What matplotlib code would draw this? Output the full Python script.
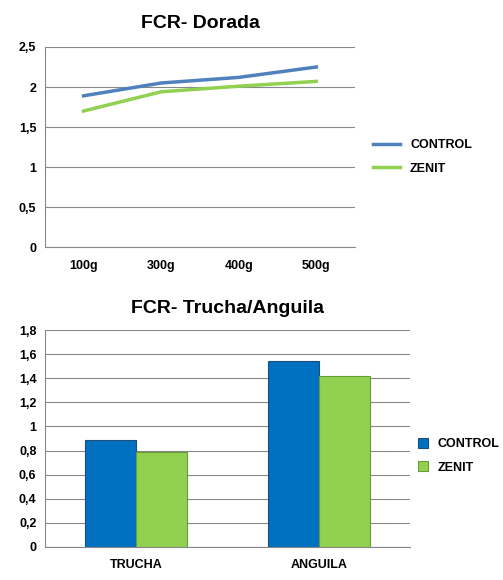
import matplotlib
matplotlib.use("Agg")
import matplotlib.pyplot as plt
import numpy as np

plt.rcParams['font.family'] = ['Liberation Sans', 'DejaVu Sans']

weights = ["100g", "300g", "400g", "500g"]
dorada_control = [1.89, 2.05, 2.12, 2.25]
dorada_zenit = [1.70, 1.94, 2.01, 2.07]

species = ["TRUCHA", "ANGUILA"]
ta_control = [0.89, 1.54]
ta_zenit = [0.79, 1.42]

fig = plt.figure(figsize=(5.03, 5.80), dpi=100)

def style(ax, yt, fmt):
    ax.set_yticks(yt)
    ax.set_yticklabels([fmt(v) for v in yt], fontsize=9, fontweight='bold')
    ax.grid(axis='y', color='#888888', lw=0.8)
    ax.set_axisbelow(True)
    for s in ['top', 'right']:
        ax.spines[s].set_visible(False)
    ax.spines['left'].set_color('#888888')
    ax.spines['bottom'].set_color('#888888')
    ax.tick_params(length=0, pad=6)

fmt = lambda v: ('%g' % round(v, 1)).replace('.', ',')

ax1 = fig.add_axes([0.089, 0.574, 0.617, 0.345])
x = np.arange(len(weights))
ax1.plot(x, dorada_control, color='#4F81BD', lw=2.5, label='CONTROL')
ax1.plot(x, dorada_zenit, color='#92D050', lw=2.5, label='ZENIT')
ax1.set_xlim(-0.5, len(weights) - 0.5)
ax1.set_ylim(0, 2.5)
style(ax1, np.arange(0, 2.51, 0.5), fmt)
ax1.set_xticks(x)
ax1.set_xticklabels(weights, fontsize=9, fontweight='bold')
ax1.tick_params(axis='x', pad=9)
ax1.set_title('FCR- Dorada', fontsize=14, fontweight='bold', pad=14)
ax1.legend(loc='center left', bbox_to_anchor=(1.02, 0.45), frameon=False,
           prop={'size': 9, 'weight': 'bold'}, handlelength=2.2, labelspacing=0.9)

ax2 = fig.add_axes([0.089, 0.057, 0.726, 0.374])
xb = np.arange(len(species))
w = 0.28
ax2.bar(xb - w / 2, ta_control, w, color='#0070C0', edgecolor='#1F4E79', lw=0.8, label='CONTROL')
ax2.bar(xb + w / 2, ta_zenit, w, color='#92D050', edgecolor='#6A9A3A', lw=0.8, label='ZENIT')
ax2.set_xlim(-0.5, len(species) - 0.5)
ax2.set_ylim(0, 1.8)
style(ax2, np.arange(0, 1.81, 0.2), fmt)
ax2.set_xticks(xb)
ax2.set_xticklabels(species, fontsize=9, fontweight='bold')
ax2.tick_params(axis='x', pad=9)
ax2.set_title('FCR- Trucha/Anguila', fontsize=14, fontweight='bold', pad=12)
ax2.legend(loc='center left', bbox_to_anchor=(0.99, 0.42), frameon=False,
           prop={'size': 9, 'weight': 'bold'}, handlelength=0.8, handleheight=0.8,
           labelspacing=0.9)

fig.savefig('out.png', dpi=100)
